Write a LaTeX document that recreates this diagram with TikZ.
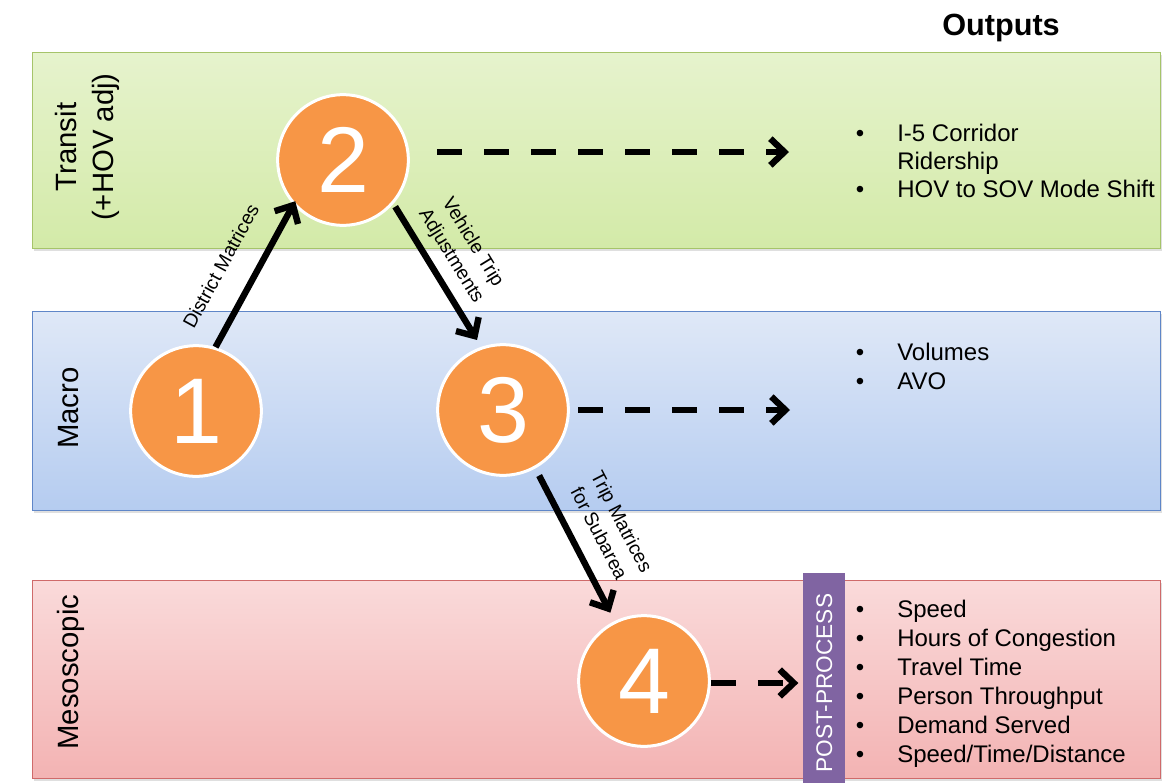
\documentclass[tikz,border=0pt]{standalone}
\usepackage{fontspec}
\setmainfont{Liberation Sans}
\usetikzlibrary{arrows.meta,shadows}
\definecolor{gTop}{HTML}{E6F3CD}
\definecolor{gBot}{HTML}{D3EAA8}
\definecolor{gDraw}{HTML}{A6C46A}
\definecolor{bTop}{HTML}{DFE8F7}
\definecolor{bBot}{HTML}{B5CCF0}
\definecolor{bDraw}{HTML}{5F86C8}
\definecolor{rTop}{HTML}{FADADA}
\definecolor{rBot}{HTML}{F3B3B3}
\definecolor{rDraw}{HTML}{CF6A6A}
\definecolor{numorange}{HTML}{F79646}
\definecolor{ppurple}{HTML}{8064A2}
\begin{document}
\begin{tikzpicture}[x=0.75pt,y=-0.75pt,
 band/.style={anchor=north west, inner sep=0pt, line width=0.9pt, minimum width=846pt,
   drop shadow={shadow xshift=1pt,shadow yshift=-1.5pt,opacity=0.25}},
 lane/.style={rotate=90, font=\fontsize{22}{27.75}\selectfont, align=center, inner sep=0pt},
 num/.style={circle, fill=numorange, draw=white, line width=2.25pt, minimum size=98pt,
   inner sep=0pt, text=white, font=\fontsize{70}{70}\selectfont},
 flow/.style={line width=4.8pt, -{Straight Barb[length=10.5pt,width=20pt]}},
 dflow/.style={flow, dash pattern=on 18.75pt off 16.5pt},
 lbl/.style={font=\fontsize{14.5}{19}\selectfont, sloped, anchor=south, align=center},
 item/.style={font=\fontsize{18}{18}\selectfont, anchor=base west, inner sep=0pt},
 bul/.style={font=\fontsize{18}{18}\selectfont, anchor=base, inner sep=0pt},
]
\useasboundingbox (0,0) rectangle (1162,782);

% bands
\node[band, top color=gTop, bottom color=gBot, draw=gDraw, minimum height=147pt] (green) at (32,52) {};
\node[band, top color=bTop, bottom color=bBot, draw=bDraw, minimum height=149.25pt] (blue) at (32,311) {};
\node[band, top color=rTop, bottom color=rBot, draw=rDraw, minimum height=148.5pt] (red) at (32,580) {};

% lane labels
\node[lane] (ltransit) at (87,147) {Transit\\(+HOV adj)};
\node[lane, anchor=base] (lmacro) at (78,408) {Macro};
\node[lane, anchor=base] (lmeso) at (78,672) {Mesoscopic};

% heading
\node[font=\fontsize{23}{23}\selectfont\bfseries, inner sep=0pt] (outputs) at (1001,28) {Outputs};

% post-process box
\node[anchor=north west, fill=ppurple, inner sep=0pt, minimum width=31.5pt, minimum height=165pt] (post) at (803,573) {};
\node[rotate=90, text=white, font=\fontsize{17}{17}\selectfont, inner sep=0pt] (ptxt) at (post.center) {POST-PROCESS};

% circles
\node[num] (c1) at (196,411) {1};
\node[num] (c2) at (343,160) {2};
\node[num] (c3) at (503,410) {3};
\node[num] (c4) at (644,681) {4};

% free ends of dashed arrows
\coordinate (o1) at (789,152);
\coordinate (o2) at (790,410);

% solid arrows with labels
\draw[flow, shorten >=-3pt] (c1.73) -- node[lbl, pos=0.454, inner sep=18pt] (l1) {District Matrices} (c2.222);
\draw[flow, shorten <=2.5pt, shorten >=6pt] (c2.319) -- node[lbl, pos=0.444, inner sep=7pt] (l2) {Vehicle Trip\\Adjustments} (c3.109);
\draw[flow, shorten <=6pt, shorten >=7pt] (c3.299) -- node[lbl, pos=0.507, inner sep=12.5pt] (l3) {Trip Matrices\\for Subarea} (c4.116);

% dashed arrows
\draw[dflow] ([shift={(27.5,-8)}]c2.east) -- (o1);
\draw[dflow] ([shift={(8.5,0)}]c3.east) -- (o2);
\draw[dflow, shorten >=3.5pt] ([shift={(0,2)}]c4.east) -- ([shift={(0,2)}]c4.east -| post.west);

% outputs: transit
\node[bul] (gb1) at (860,141) {\textbullet};
\node[item] (g1) at (897,141) {I-5 Corridor};
\node[item] (g2) at (897,169) {Ridership};
\node[bul] (gb3) at (860,197) {\textbullet};
\node[item] (g3) at (897,197) {HOV to SOV Mode Shift};

% outputs: macro
\node[bul] (bb1) at (860,360) {\textbullet};
\node[item] (b1) at (897,360) {Volumes};
\node[bul] (bb2) at (860,389) {\textbullet};
\node[item] (b2) at (897,389) {AVO};

% outputs: mesoscopic
\node[bul] (rb1) at (860,617) {\textbullet};
\node[item] (r1) at (897,617) {Speed};
\node[bul] (rb2) at (860,646) {\textbullet};
\node[item] (r2) at (897,646) {Hours of Congestion};
\node[bul] (rb3) at (860,675) {\textbullet};
\node[item] (r3) at (897,675) {Travel Time};
\node[bul] (rb4) at (860,704) {\textbullet};
\node[item] (r4) at (897,704) {Person Throughput};
\node[bul] (rb5) at (860,733) {\textbullet};
\node[item] (r5) at (897,733) {Demand Served};
\node[bul] (rb6) at (860,762) {\textbullet};
\node[item] (r6) at (897,762) {Speed/Time/Distance};
\end{tikzpicture}
\end{document}
